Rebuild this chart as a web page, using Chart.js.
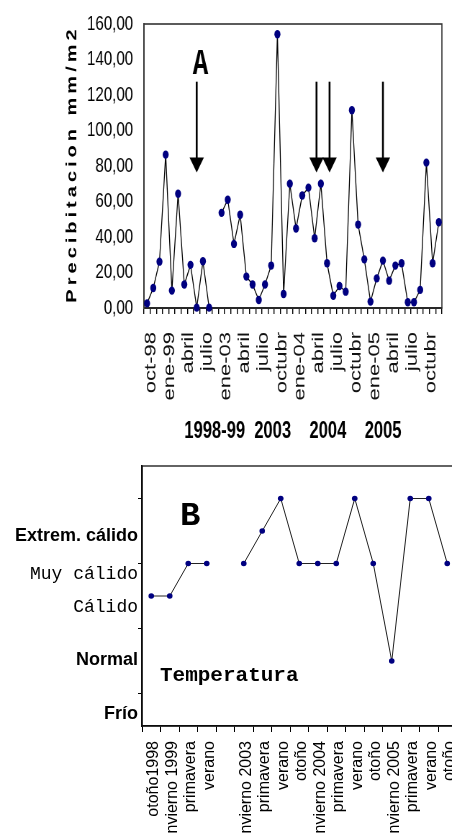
<!doctype html>
<html lang="es">
<head>
<meta charset="utf-8">
<title>Precipitación y temperatura</title>
<script src="https://cdn.jsdelivr.net/npm/chart.js"></script>
<style>
  html, body { margin: 0; padding: 0; background: #fff; width: 452px; height: 833px; overflow: hidden; }
  /* chart A is drawn wide and squeezed, like the original figure */
  #wrapA { position: absolute; left: 0; top: 0; width: 628px; height: 455px; transform: scaleX(0.7197); transform-origin: 0 0; }
  #wrapB { position: absolute; left: 0; top: 455px; width: 470px; height: 378px; }
</style>
</head>
<body>
<div id="wrapA"><canvas id="lluviaChart" width="628" height="455"></canvas></div>
<div id="wrapB"><canvas id="tempChart" width="470" height="378"></canvas></div>
<script>
// --- A: precipitación mensual ---
const meses = [
  'oct-98', '', '', 'ene-99', '', '', 'abril', '', '', 'julio', '', '',
  'ene-03', '', '', 'abril', '', '', 'julio', '', '', 'octubr', '', '',
  'ene-04', '', '', 'abril', '', '', 'julio', '', '', 'octubr', '', '',
  'ene-05', '', '', 'abril', '', '', 'julio', '', '', 'octubr', '', ''
];
const precipitacion = [
  2.6, 11.3, 26.1, 86.4, 9.8, 64.4, 13.2, 24.3, 0.2, 26.3, 0.2, null,
  53.6, 61.0, 36.1, 52.5, 17.7, 13.2, 4.5, 13.2, 23.9, 154.2, 7.9, 70.0,
  44.8, 63.4, 67.8, 39.3, 70.0, 25.2, 6.9, 12.4, 9.2, 111.4, 47.0, 27.4,
  3.6, 16.7, 26.7, 15.4, 23.9, 25.2, 3.2, 3.2, 10.2, 81.9, 25.2, 48.3
];
const periodos = '1998-99  2003    2004    2005';
const tituloY = 'Precibitacion mm/m2';
const flechas = [8, 27.3, 29.4, 38];   // meses marcados con flecha

// --- B: temperatura por estación ---
const estaciones = [
  'otoño1998', 'invierno 1999', 'primavera', 'verano', '',
  'invierno 2003', 'primavera', 'verano', 'otoño',
  'invierno 2004', 'primavera', 'verano', 'otoño',
  'invierno 2005', 'primavera', 'verano', 'otoño'
];
const nivelTemp = [4, 4, 5, 5, null, 5, 6, 7, 5, 5, 5, 7, 5, 2, 7, 7, 5];
const escala = ['Frío', 'Normal', 'Cálido', 'Muy cálido', 'Extrem. cálido'];
const escalaPos = [0.37, 2.03, 3.65, 4.68, 5.83];
const escalaMono = ['Cálido', 'Muy cálido'];
const marcasY = [1, 3, 5, 7];

const arial = 'Arial, "Liberation Sans", sans-serif';
const courier = '"Courier New", "Liberation Mono", monospace';

// box round the plot area
const marco = {
  id: 'marco',
  beforeDatasetsDraw(chart, args, opts) {
    const { ctx, chartArea: a } = chart;
    ctx.save();
    ctx.strokeStyle = opts.color || '#333';
    ctx.lineWidth = opts.width || 1.5;
    ctx.strokeRect(a.left, a.top, a.right - a.left, a.bottom - a.top);
    ctx.restore();
  }
};

const notasA = {
  id: 'notasA',
  afterDatasetsDraw(chart) {
    const { ctx, scales: { x, y } } = chart;
    ctx.save();
    ctx.fillStyle = '#000';
    ctx.strokeStyle = '#000';
    ctx.lineWidth = 2.6;
    flechas.forEach(m => {
      const px = x.getPixelForValue(m);
      const top = y.getPixelForValue(127.5);
      const tip = y.getPixelForValue(76.3);
      ctx.beginPath();
      ctx.moveTo(px, top);
      ctx.lineTo(px, tip - 12);
      ctx.stroke();
      ctx.beginPath();
      ctx.moveTo(px - 10, tip - 15);
      ctx.lineTo(px + 10, tip - 15);
      ctx.lineTo(px, tip);
      ctx.closePath();
      ctx.fill();
    });
    ctx.font = 'bold 36px ' + courier;
    ctx.textAlign = 'center';
    ctx.textBaseline = 'middle';
    ctx.fillText('A', x.getPixelForValue(8.6), y.getPixelForValue(137));
    ctx.restore();
  }
};

const notasB = {
  id: 'notasB',
  afterDatasetsDraw(chart) {
    const { ctx, scales: { x, y } } = chart;
    ctx.save();
    ctx.fillStyle = '#000';
    ctx.textBaseline = 'middle';
    ctx.textAlign = 'center';
    ctx.font = 'bold 34px ' + courier;
    ctx.fillText('B', x.getPixelForValue(2.1), y.getPixelForValue(6.45));
    ctx.textAlign = 'left';
    ctx.font = 'bold 21px ' + courier;
    ctx.fillText('Temperatura', x.getPixelForValue(0.47), y.getPixelForValue(1.54));
    ctx.restore();
  }
};

// Precipitation line chart
new Chart(document.getElementById('lluviaChart'), {
  type: 'line',
  data: {
    labels: meses,
    datasets: [{
      data: precipitacion,
      borderColor: '#000',
      borderWidth: 1.3,
      tension: 0,
      spanGaps: false,
      clip: false,
      pointRadius: 4.2,
      pointBorderWidth: 0,
      pointBackgroundColor: '#000080',
      pointBorderColor: '#000080'
    }]
  },
  options: {
    responsive: false,
    animation: false,
    layout: { padding: { top: 24, right: 14, left: 0, bottom: 0 } },
    plugins: {
      legend: { display: false },
      tooltip: { enabled: false },
      marco: { color: '#333', width: 1.6 }
    },
    scales: {
      x: {
        offset: true,
        grid: { offset: true, drawOnChartArea: false, tickLength: 6, color: '#000', lineWidth: 1.4 },
        border: { color: '#000', width: 2 },
        ticks: {
          autoSkip: false, minRotation: 90, maxRotation: 90,
          padding: 18, labelOffset: 6, color: '#111',
          font: { family: arial, size: 22 }
        },
        title: {
          display: true, text: periodos, color: '#000',
          font: { family: arial, size: 23, weight: 'bold' },
          padding: { top: 0, bottom: 10 }
        },
        afterFit: s => { s.height = 147; s.paddingLeft = 0; s.paddingRight = 0; }
      },
      y: {
        min: 0, max: 160,
        grid: { display: false, drawTicks: false },
        border: { color: '#555', width: 2 },
        ticks: {
          stepSize: 20, padding: 15, color: '#000',
          font: { family: arial, size: 21 },
          callback: v => v.toFixed(2).replace('.', ',')
        },
        title: {
          display: true, text: tituloY.split('').join('\u2009'), color: '#000',
          font: { family: arial, size: 20, weight: 'bold' },
          padding: { top: 88, bottom: 0 }
        },
        afterFit: s => { s.width = 200; s.paddingTop = 0; s.paddingBottom = 0; }
      }
    }
  },
  plugins: [marco, notasA]
});

// Temperature chart
new Chart(document.getElementById('tempChart'), {
  type: 'line',
  data: {
    labels: estaciones,
    datasets: [{
      data: nivelTemp,
      borderColor: '#222',
      borderWidth: 1,
      tension: 0,
      spanGaps: false,
      clip: false,
      pointRadius: 2.8,
      pointBorderWidth: 0,
      pointBackgroundColor: '#000080',
      pointBorderColor: '#000080'
    }]
  },
  options: {
    responsive: false,
    animation: false,
    layout: { padding: { top: 11, right: 13.5, left: 0, bottom: 0 } },
    plugins: {
      legend: { display: false },
      tooltip: { enabled: false },
      marco: { color: '#111', width: 1.3 }
    },
    scales: {
      x: {
        offset: true,
        grid: { offset: true, drawOnChartArea: false, tickLength: 6, color: '#000' },
        border: { color: '#000', width: 1.5 },
        ticks: {
          autoSkip: false, minRotation: 90, maxRotation: 90,
          padding: 9, labelOffset: 2.5, color: '#000',
          font: { family: arial, size: 16 }
        },
        afterFit: s => { s.height = 107; s.paddingLeft = 0; s.paddingRight = 0; }
      },
      y: {
        min: 0, max: 8,
        afterBuildTicks: s => {
          s.ticks = [...marcasY, ...escalaPos].sort((a, b) => a - b).map(v => ({ value: v }));
        },
        grid: {
          drawOnChartArea: false, tickLength: 4,
          tickColor: c => (c.tick && escalaPos.includes(c.tick.value)) ? 'rgba(0,0,0,0)' : '#000'
        },
        border: { color: '#000', width: 1.5 },
        ticks: {
          autoSkip: false, padding: 0, color: '#000',
          callback: v => { const i = escalaPos.indexOf(v); return i < 0 ? '' : escala[i]; },
          font: c => {
            const name = c.tick ? escala[escalaPos.indexOf(c.tick.value)] : '';
            return escalaMono.includes(name)
              ? { family: courier, size: 18 }
              : { family: arial, size: 18, weight: 'bold' };
          }
        },
        afterFit: s => { s.width = 142; s.paddingTop = 0; s.paddingBottom = 0; }
      }
    }
  },
  plugins: [marco, notasB]
});
</script>
</body>
</html>
